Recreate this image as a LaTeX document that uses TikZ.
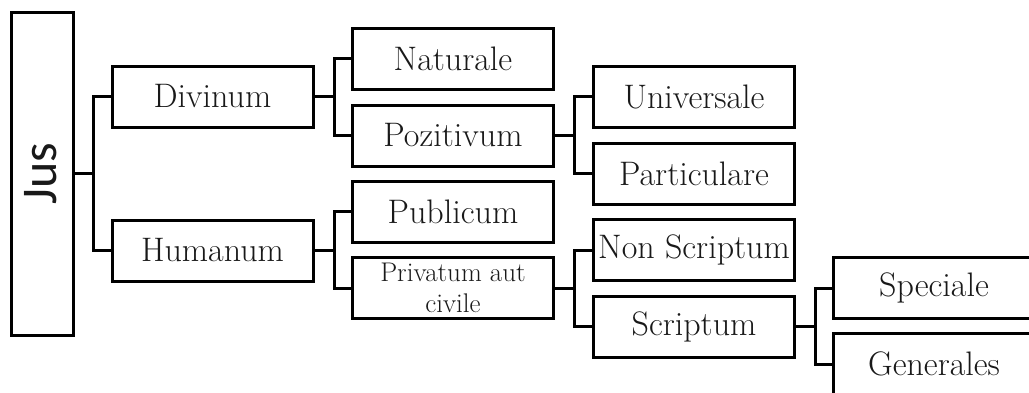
\documentclass[tikz,border=0pt]{standalone}
\usepackage{fontspec}
\newfontfamily\jusfont{Carlito}
\begin{document}
\begin{tikzpicture}[x=1pt,y=-1pt,
  every node/.style={draw=black,line width=3pt,inner sep=0pt,text=black!90,font=\fontsize{34}{40}\selectfont},
  box/.style={minimum width=201pt,minimum height=61pt},
  link/.style={draw=black,line width=3pt}]
\useasboundingbox (0,0) rectangle (1029,392);
\clip (0,0) rectangle (1029,392);
\node[minimum width=62pt,minimum height=323pt] (jus) at (42,173.5) {};
\node[draw=none,rotate=90,font=\jusfont\fontsize{50}{54}\selectfont] (justxt) at (41,174) {Jus};
\node[box] (div) at (212.5,96.5) {Divinum};
\node[box] (hum) at (212.5,250.5) {Humanum};
\node[box] (nat) at (453,58.5) {Naturale};
\node[box] (poz) at (453,135.5) {Pozitivum};
\node[box] (pub) at (453,211.5) {Publicum};
\node[box,align=center,font=\fontsize{27}{31}\selectfont] (pri) at (453,288) {Privatum aut\\civile};
\node[box] (uni) at (694,96.5) {Universale};
\node[box] (par) at (694,173.5) {Particulare};
\node[box] (non) at (694,250) {Non Scriptum};
\node[box] (scr) at (694,326.5) {Scriptum};
\node[box] (spe) at (934,288) {Speciale};
\node[box] (gen) at (934,364) {Generales};
\draw[link] (jus.east) -- ++(19,0) coordinate (j1) |- (div.west);
\draw[link] (j1) |- (hum.west);
\draw[link] (div.east) -- ++(20,0) coordinate (d1) |- (nat.west);
\draw[link] (d1) |- (poz.west);
\draw[link] (hum.east) -- ++(20,0) coordinate (h1) |- (pub.west);
\draw[link] (h1) |- (pri.west);
\draw[link] (poz.east) -- ++(19,0) coordinate (p1) |- (uni.west);
\draw[link] (p1) |- (par.west);
\draw[link] (pri.east) -- ++(19,0) coordinate (r1) |- (non.west);
\draw[link] (r1) |- (scr.west);
\draw[link] (scr.east) -- ++(19,0) coordinate (s1) |- (spe.west);
\draw[link] (s1) |- (gen.west);
\end{tikzpicture}
\end{document}
